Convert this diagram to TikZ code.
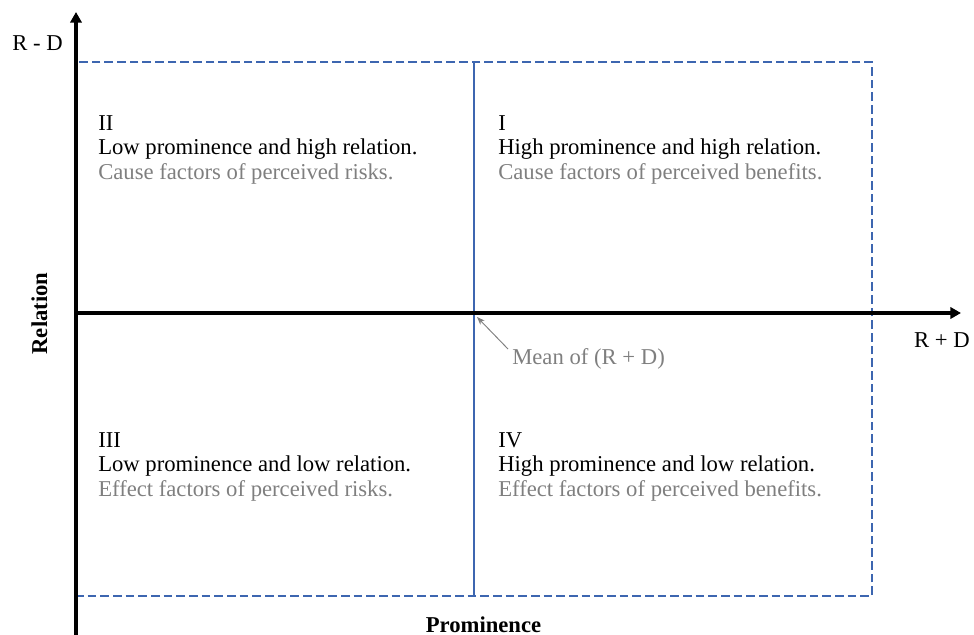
\documentclass[tikz,border=0pt]{standalone}
\usepackage{fontspec}
\setmainfont{Liberation Serif}
\usetikzlibrary{arrows.meta}
\definecolor{gridblue}{HTML}{3D66B0}
\definecolor{softgray}{HTML}{7F7F7F}
\tikzset{
  axis/.style={line width=3pt,-{Triangle[length=8pt,width=8.5pt]}},
  quadframe/.style={draw=gridblue,line width=0.8pt,dash pattern=on 6.5pt off 3pt},
  meanline/.style={draw=gridblue,line width=0.8pt},
  txt/.style={font=\fontsize{17}{18.4}\selectfont,inner sep=0pt},
  quad/.style={txt,align=left,anchor=north west},
  note/.style={softgray},
  axlabel/.style={font=\fontsize{17}{18}\selectfont\bfseries,inner sep=0pt},
  pointer/.style={draw=softgray,line width=0.7pt,-{Stealth[length=6pt,width=4.5pt]}}
}
\begin{document}
\begin{tikzpicture}[x=0.75pt,y=-0.75pt]
\useasboundingbox (0,0) rectangle (974,635);
% corners of the quadrant frame
\coordinate (tl) at (77,62);
\coordinate (br) at (872,596);
\coordinate (mt) at (474,62);
\coordinate (mb) at (474,596);
\draw[quadframe] (tl) rectangle (br);
\draw[meanline] (mt) -- (mb);
% axes
\coordinate (yb) at (76,640);
\coordinate (yt) at (76,12);
\coordinate (xl) at (76,313);
\coordinate (xr) at (961,313);
\draw[axis] (yb) -- (yt);
\draw[axis] (xl) -- (xr);
% axis labels
\node[txt,anchor=base east] (rd) at (63,51) {R - D};
\node[txt,anchor=base east] (rpd) at (970,347) {R + D};
\node[axlabel,rotate=90,anchor=base] (rel) at (47,313.5) {Relation};
\node[axlabel,anchor=base] (prom) at (483.5,632) {Prominence};
% quadrants
\node[quad] (q2) at (98,115) {II\\Low prominence and high relation.\\\textcolor{softgray}{Cause factors of perceived risks.}};
\node[quad] (q1) at (498,115) {I\\High prominence and high relation.\\\textcolor{softgray}{Cause factors of perceived benefits.}};
\node[quad] (q3) at (98,432) {III\\Low prominence and low relation.\\\textcolor{softgray}{Effect factors of perceived risks.}};
\node[quad] (q4) at (498,432) {IV\\High prominence and low relation.\\\textcolor{softgray}{Effect factors of perceived benefits.}};
% mean marker
\coordinate (meanpt) at (477,317);
\coordinate (tail) at (508,349);
\node[txt,note,anchor=base west] (mean) at (512,364) {Mean of (R + D)};
\draw[pointer] (tail) -- (meanpt);
\end{tikzpicture}
\end{document}
